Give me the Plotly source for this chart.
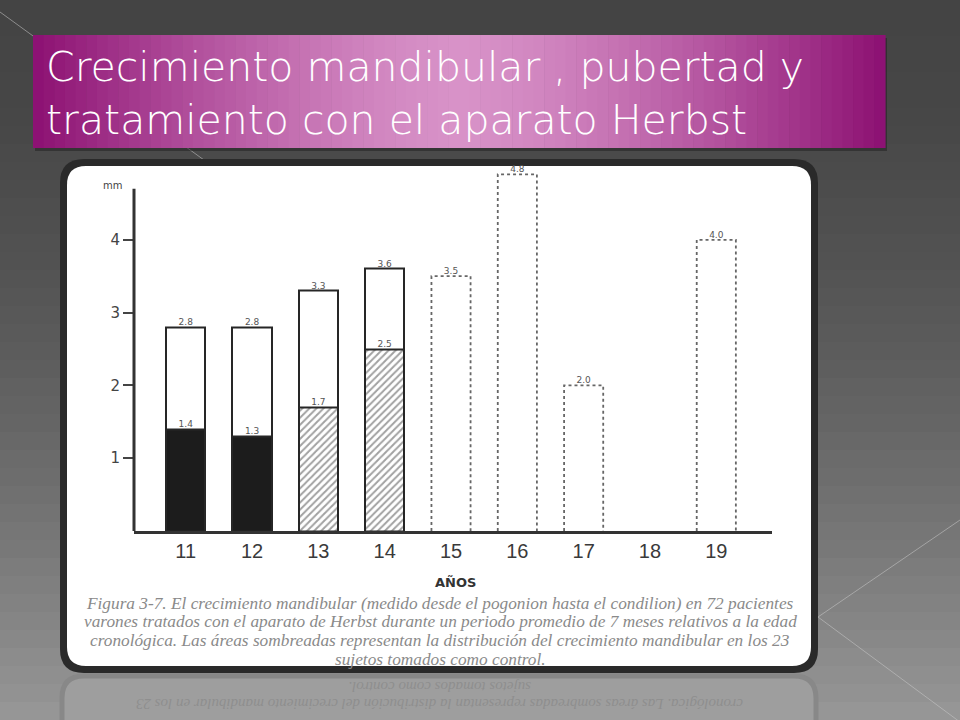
import plotly.graph_objects as go

# datos (mm de crecimiento mandibular por edad)
anos = [11, 12, 13, 14, 15, 16, 17, 18, 19]
anos_trat = [11, 12, 13, 14]
total_trat = [2.8, 2.8, 3.3, 3.6]
control = [1.4, 1.3, 1.7, 2.5]
patron_control = ["", "", "/", "/"]
anos_punt = [15, 16, 17, 19]
valores_punt = [3.5, 4.9, 2.0, 4.0]
etiq_total = ["2.8", "2.8", "3.3", "3.6"]
etiq_control = ["1.4", "1.3", "1.7", "2.5"]
etiq_punt = ["3.5", "4.8", "2.0", "4.0"]
y_ticks = [1, 2, 3, 4]

titulo = ["Crecimiento mandibular , pubertad y", "tratamiento con el aparato Herbst"]
pie = [
    "Figura 3-7. El crecimiento mandibular (medido desde el pogonion hasta el condilion) en 72 pacientes",
    "varones tratados con el aparato de Herbst durante un periodo promedio de 7 meses relativos a la edad",
    "cronológica. Las áreas sombreadas representan la distribución del crecimiento mandibular en los 23",
    "sujetos tomados como control.",
]

W, H = 960, 720
BAR_W = 0.59


def px(x):
    return x / W


def py(y):
    return 1 - y / H


def mix(c1, c2, t):
    return "rgb(%d,%d,%d)" % tuple(round(a + (b - a) * t) for a, b in zip(c1, c2))


def rounded(x0, y0, x1, y1, r):
    # path en coordenadas de papel a partir de pixeles
    return ("M %f,%f L %f,%f Q %f,%f %f,%f L %f,%f Q %f,%f %f,%f "
            "L %f,%f Q %f,%f %f,%f L %f,%f Q %f,%f %f,%f Z") % (
        px(x0 + r), py(y0), px(x1 - r), py(y0), px(x1), py(y0), px(x1), py(y0 + r),
        px(x1), py(y1 - r), px(x1), py(y1), px(x1 - r), py(y1),
        px(x0 + r), py(y1), px(x0), py(y1), px(x0), py(y1 - r),
        px(x0), py(y0 + r), px(x0), py(y0), px(x0 + r), py(y0))


shapes = []

# fondo gris degradado
n = 40
for i in range(n):
    t = i / (n - 1)
    shapes.append(dict(type="rect", xref="paper", yref="paper", layer="below",
                       x0=0, x1=1, y0=py((i + 1) * H / n + 1), y1=py(i * H / n),
                       fillcolor=mix((68, 68, 68), (150, 150, 150), t ** 1.7), line_width=0))

# lineas decorativas
for (a, b, c, d) in [(0, 12, 215, 168), (960, 520, 818, 617), (818, 617, 960, 722)]:
    shapes.append(dict(type="line", xref="paper", yref="paper", layer="below",
                       x0=px(a), y0=py(b), x1=px(c), y1=py(d),
                       line=dict(color="rgba(200,200,200,0.55)", width=1)))

# reflejo del panel
shapes.append(dict(type="path", xref="paper", yref="paper", layer="below",
                   path=rounded(62, 676, 816, 760, 22), fillcolor="#9e9e9e",
                   line=dict(color="#888888", width=5)))

# caja del titulo con degradado magenta
shapes.append(dict(type="rect", xref="paper", yref="paper", layer="below",
                   x0=px(35), x1=px(887), y0=py(151), y1=py(38),
                   fillcolor="rgba(30,30,30,0.5)", line_width=0))
m = 80
for i in range(m):
    t = (i + 0.5) / m
    k = 1 - abs(2 * t - 1) ** 1.4
    shapes.append(dict(type="rect", xref="paper", yref="paper", layer="below",
                       x0=px(33 + i * 852 / m), x1=px(33 + (i + 1) * 852 / m + 0.6),
                       y0=py(148), y1=py(35),
                       fillcolor=mix((140, 16, 114), (216, 146, 200), k), line_width=0))

# panel blanco con borde oscuro
shapes.append(dict(type="path", xref="paper", yref="paper", layer="below",
                   path=rounded(60, 159, 818, 673, 24), fillcolor="#2a2a2a", line_width=0))
shapes.append(dict(type="path", xref="paper", yref="paper", layer="below",
                   path=rounded(67, 166, 811, 666, 19), fillcolor="white", line_width=0))

# eje y (solo hasta 4.7)
shapes.append(dict(type="line", xref="paper", yref="y", layer="above",
                   x0=px(134), x1=px(134), y0=0, y1=4.7,
                   line=dict(color="#333333", width=3)))

fig = go.Figure()

# barras tratadas (total)
fig.add_trace(go.Bar(x=anos_trat, y=total_trat, width=BAR_W,
                     marker=dict(color="white", line=dict(color="#262626", width=2)),
                     showlegend=False, hoverinfo="skip"))
# parte sombreada (control)
fig.add_trace(go.Bar(x=anos_trat, y=control, width=BAR_W,
                     marker=dict(color=["#1c1c1c", "#1c1c1c", "white", "white"],
                                 line=dict(color="#262626", width=2),
                                 pattern=dict(shape=patron_control, fgcolor="#2a2a2a",
                                              bgcolor="white", size=5, solidity=0.4)),
                     showlegend=False, hoverinfo="skip"))
# barras punteadas
fig.add_trace(go.Bar(x=anos_punt, y=valores_punt, width=BAR_W,
                     marker=dict(color="white", line=dict(width=0)),
                     showlegend=False, hoverinfo="skip"))
xs, ys = [], []
for a, v in zip(anos_punt, valores_punt):
    xs += [a - BAR_W / 2, a - BAR_W / 2, a + BAR_W / 2, a + BAR_W / 2, None]
    ys += [0, v, v, 0, None]
fig.add_trace(go.Scatter(x=xs, y=ys, mode="lines",
                         line=dict(color="#666666", width=1.8, dash="dot"),
                         showlegend=False, hoverinfo="skip"))

etiq_font = dict(family="DejaVu Sans", size=9, color="#555555")
fig.add_trace(go.Scatter(x=anos_trat + anos_punt, y=total_trat + valores_punt,
                         mode="text", text=etiq_total + etiq_punt, textposition="top center",
                         textfont=etiq_font, cliponaxis=False,
                         showlegend=False, hoverinfo="skip"))
fig.add_trace(go.Scatter(x=anos_trat, y=control, mode="text", text=etiq_control,
                         textposition="top center", textfont=etiq_font, cliponaxis=False,
                         showlegend=False, hoverinfo="skip"))

annotations = []
for i, linea in enumerate(titulo):
    annotations.append(dict(xref="paper", yref="paper", x=px(44), y=py(67 + i * 53),
                            xanchor="left", yanchor="middle", showarrow=False, text=linea,
                            font=dict(family="DejaVu Sans", size=41, weight=200, color="white")))
for i, linea in enumerate(pie):
    annotations.append(dict(xref="paper", yref="paper", x=px(440), y=py(603 + i * 18.8),
                            xanchor="center", yanchor="middle", showarrow=False,
                            text="<i>" + linea + "</i>",
                            font=dict(family="Liberation Serif", size=17.3, color="#8a8a8a")))
for i, linea in enumerate(pie[2:][::-1]):
    annotations.append(dict(xref="paper", yref="paper", x=px(440), y=py(687 + i * 17.5),
                            xanchor="center", yanchor="middle", showarrow=False,
                            text="<i>" + linea + "</i>", textangle=180,
                            font=dict(family="Liberation Serif", size=15, color="#8e8e8e")))
annotations.append(dict(xref="paper", yref="paper", x=px(455), y=py(582),
                        xanchor="center", yanchor="middle", showarrow=False, text="<b>AÑOS</b>",
                        font=dict(family="DejaVu Sans", size=13, color="#333333")))
annotations.append(dict(xref="paper", yref="paper", x=px(112), y=py(186),
                        xanchor="center", yanchor="middle", showarrow=False, text="mm",
                        font=dict(family="DejaVu Sans", size=10, color="#444444")))

fig.update_layout(
    width=W, height=H, margin=dict(l=0, r=0, t=0, b=0),
    paper_bgcolor="#555555", plot_bgcolor="rgba(0,0,0,0)",
    barmode="overlay", bargap=0,
    shapes=shapes, annotations=annotations,
    xaxis=dict(domain=[px(134), px(772)], range=[10.22, 19.84],
               tickvals=anos, ticktext=[str(a) for a in anos],
               showgrid=False, zeroline=False, showline=True,
               linecolor="#333333", linewidth=3, ticks="",
               tickfont=dict(family="Liberation Sans Narrow, Liberation Sans", size=20, color="#3a3a3a")),
    yaxis=dict(domain=[py(531), py(531 - 5.2 * 72.8)], range=[0, 5.2],
               tickvals=y_ticks, showgrid=False, zeroline=False, showline=False,
               ticks="outside", ticklen=10, tickwidth=2, tickcolor="#444444",
               tickfont=dict(family="DejaVu Sans", size=15, color="#444444")),
)

fig.write_html("out.html", config={"displayModeBar": False},
               post_script="document.body.style.margin='0';")
